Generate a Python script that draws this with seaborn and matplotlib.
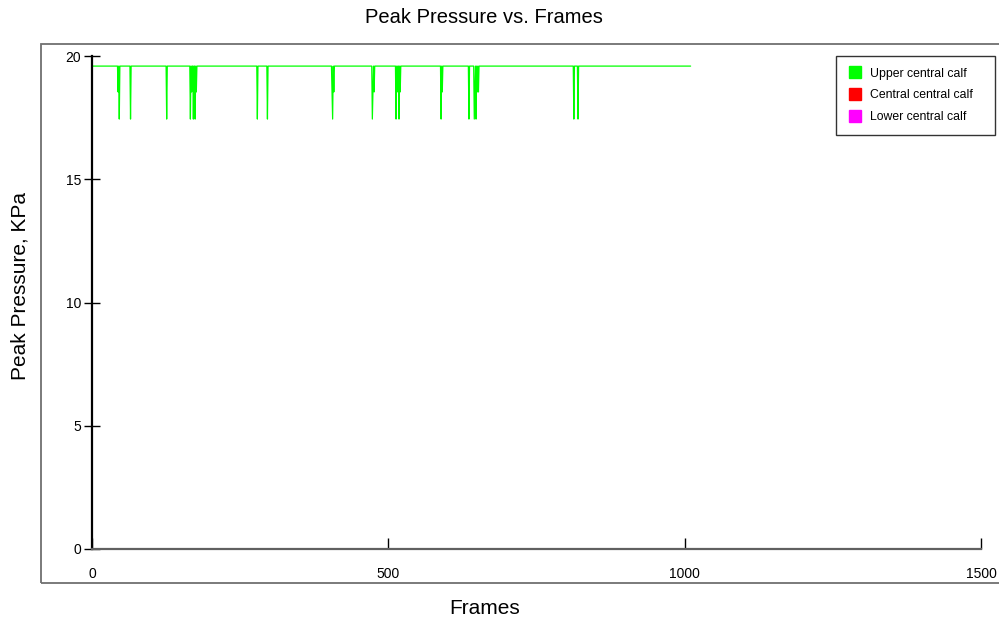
import numpy as np
import pandas as pd
import matplotlib
matplotlib.use('Agg')
import matplotlib.pyplot as plt
import seaborn as sns
from matplotlib.lines import Line2D
from matplotlib.patches import Rectangle

# dados
ultimo_frame = 1010
nivel_base = 19.6
nivel_medio = 18.55
nivel_baixo = 17.45
quedas_medio = [44, 168, 176, 405, 408, 474, 476, 515, 520, 591, 646, 650, 652]
quedas_baixo = [46, 65, 126, 166, 171, 174, 279, 296, 406, 473, 513, 518,
                589, 636, 645, 648, 813, 820]
series = ['Upper central calf', 'Central central calf', 'Lower central calf']
cores = ['#00ff00', '#ff0000', '#ff00ff']

# montar a serie de pressao do sensor superior
frames = np.arange(0, ultimo_frame + 1)
pressao = np.full(len(frames), nivel_base)
pressao[quedas_medio] = nivel_medio
pressao[quedas_baixo] = nivel_baixo
df = pd.DataFrame({'frame': frames, 'pressao': pressao, 'sensor': series[0]})

sns.set_theme(style='white')
plt.rcParams['font.family'] = ['Liberation Sans', 'DejaVu Sans']
plt.rcParams['text.color'] = 'black'
plt.rcParams['xtick.labelcolor'] = 'black'
plt.rcParams['ytick.labelcolor'] = 'black'

fig = plt.figure(figsize=(9.99, 6.18), dpi=100)
ax = fig.add_axes([0.0921, 0.1117, 0.8899, 0.7973])

sns.lineplot(data=df, x='frame', y='pressao', color=cores[0], lw=0.9,
             estimator=None, ax=ax, legend=False)

ax.set_xlim(0, 1500)
ax.set_ylim(0, 20)
ax.set_xticks([0, 500, 1000, 1500])
ax.set_yticks([0, 5, 10, 15, 20])
ax.set_xlabel('')
ax.set_ylabel('')
ax.tick_params(axis='y', direction='inout', length=12, width=1, color='black',
               labelsize=10, left=True, pad=2)
ax.tick_params(axis='x', direction='in', length=8, width=1, color='black',
               labelsize=10, bottom=True, pad=13)
for lado in ['top', 'right']:
    ax.spines[lado].set_visible(False)
ax.spines['left'].set_color('black')
ax.spines['left'].set_linewidth(1.6)
ax.spines['bottom'].set_color('#606060')
ax.spines['bottom'].set_linewidth(1.6)

# moldura externa
fig.patches.append(Rectangle((0.041, 0.0566), 1.0, 0.8722, transform=fig.transFigure,
                             fill=False, edgecolor='#707070', lw=1.3))

fig.text(0.4845, 0.971, 'Peak Pressure vs. Frames', ha='center', va='center', fontsize=14.5)
fig.text(0.485, 0.015, 'Frames', ha='center', va='center', fontsize=15)
fig.text(0.02, 0.538, 'Peak Pressure, KPa', ha='center', va='center',
         rotation=90, fontsize=15)

handles = [Line2D([], [], ls='', marker='s', ms=8, color=c) for c in cores]
leg = ax.legend(handles, series, loc='upper left',
                bbox_to_anchor=(836 / 999, 1 - 133 / 618, 159 / 999, 77 / 618),
                bbox_transform=fig.transFigure, mode='expand', fontsize=8.8,
                frameon=True, fancybox=False, edgecolor='black',
                handletextpad=0.6, handlelength=1.2, borderpad=0.95,
                labelspacing=0.8, borderaxespad=0)
leg.get_frame().set_linewidth(1.0)

fig.savefig('out.png', dpi=100)
